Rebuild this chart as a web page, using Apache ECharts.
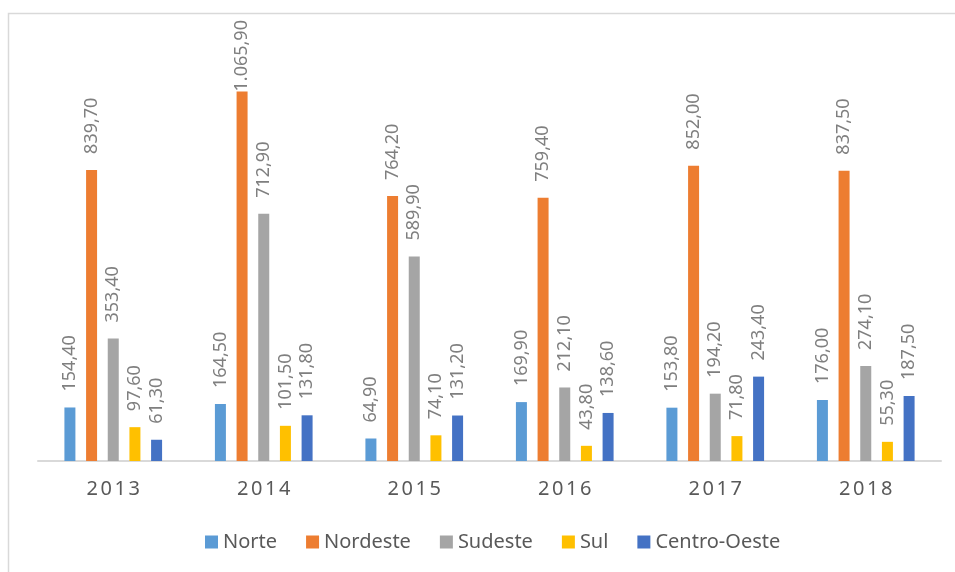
<!DOCTYPE html>
<html>
<head>
<meta charset="utf-8">
<script src="https://cdn.jsdelivr.net/npm/echarts@6/dist/echarts.min.js"></script>
<style>
  html, body { margin: 0; padding: 0; background: #ffffff; }
  #chart { width: 955px; height: 572px; }
</style>
</head>
<body>
<div id="chart"></div>
<script>
// Years on the category axis
const years = ['2013', '2014', '2015', '2016', '2017', '2018'];

// Values per region, one per year
const norte = [154.4, 164.5, 64.9, 169.9, 153.8, 176.0];
const nordeste = [839.7, 1065.9, 764.2, 759.4, 852.0, 837.5];
const sudeste = [353.4, 712.9, 589.9, 212.1, 194.2, 274.1];
const sul = [97.6, 101.5, 74.1, 43.8, 71.8, 55.3];
const centroOeste = [61.3, 131.8, 131.2, 138.6, 243.4, 187.5];

const regions = ['Norte', 'Nordeste', 'Sudeste', 'Sul', 'Centro-Oeste'];
const colors = ['#5B9BD5', '#ED7D31', '#A5A5A5', '#FFC000', '#4472C4'];

// Brazilian number format: 1.065,90
function fmtBR(v) {
  const parts = v.toFixed(2).split('.');
  parts[0] = parts[0].replace(/\B(?=(\d{3})+(?!\d))/g, '.');
  return parts[0] + ',' + parts[1];
}

const FONT = 'Noto Sans';

function makeSeries(name, values, color) {
  return {
    name: name,
    type: 'bar',
    barWidth: 11,
    barGap: '97%',
    itemStyle: { color: color },
    label: {
      show: true,
      position: 'top',
      rotate: 90,
      align: 'left',
      verticalAlign: 'middle',
      distance: 16,
      color: '#7f7f7f',
      fontFamily: FONT,
      fontSize: 18,
      formatter: p => fmtBR(p.value)
    },
    // The tallest bar keeps its label tight against the bar so it stays inside the frame
    data: values.map(v => v > 1000 ? { value: v, label: { distance: 0 } } : v)
  };
}

const seriesValues = [norte, nordeste, sudeste, sul, centroOeste];

const chart = echarts.init(document.getElementById('chart'), null, { renderer: 'canvas' });
chart.setOption({
  animation: false,
  backgroundColor: '#ffffff',
  graphic: [{
    type: 'rect',
    silent: true,
    shape: { x: 8.5, y: 13.5, width: 1200, height: 1000 },
    style: { fill: 'none', stroke: '#d9d9d9', lineWidth: 1.5 },
    z: -1
  }],
  legend: {
    data: regions,
    left: 200,
    top: 526,
    icon: 'rect',
    itemWidth: 13,
    itemHeight: 13,
    itemGap: 29,
    textStyle: { color: '#595959', fontFamily: FONT, fontSize: 20, lineHeight: 22 }
  },
  grid: { left: 38, right: 14, top: 45, bottom: 111, containLabel: false },
  xAxis: {
    type: 'category',
    data: years,
    boundaryGap: true,
    axisLine: { show: true, lineStyle: { color: '#d9d9d9', width: 2 } },
    axisTick: { show: false },
    axisLabel: {
      interval: 0,
      margin: 18,
      color: '#595959',
      fontFamily: FONT,
      fontSize: 20,
      formatter: v => v.split('').map(c => '{d|' + c + '}').join(''),
      rich: {
        d: { color: '#595959', fontFamily: FONT, fontSize: 20, padding: [0, 1.3] }
      }
    }
  },
  yAxis: {
    type: 'value',
    min: 0,
    max: 1200,
    interval: 200,
    show: false,
    splitLine: { show: false }
  },
  series: regions.map((r, i) => makeSeries(r, seriesValues[i], colors[i]))
});
</script>
</body>
</html>
